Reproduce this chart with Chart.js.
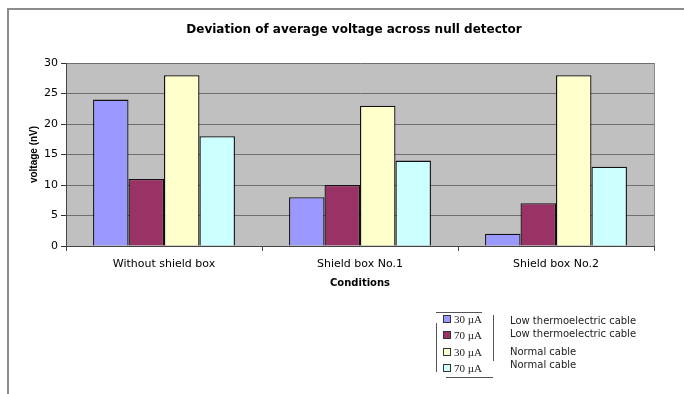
<!DOCTYPE html>
<html>
<head>
<meta charset="utf-8">
<script src="https://cdn.jsdelivr.net/npm/chart.js@4/dist/chart.umd.min.js"></script>
<style>
  html, body { margin: 0; padding: 0; background: #fff; }
  #wrap { position: relative; width: 684px; height: 394px; overflow: hidden; }
  #frame { position: absolute; left: 7px; top: 8px; right: -4px; bottom: -4px;
           border-left: 2px solid #8c8c8c; border-top: 2px solid #8c8c8c; }
  canvas { position: absolute; left: 0; top: 0; }
  .ln { position: absolute; background: #555; }
  .lg { position: absolute; font-family: "Liberation Serif", "DejaVu Serif", serif; font-size: 11px; color: #222; }
  .lg i { display: inline-block; width: 6px; height: 6px; border: 1px solid #333; margin-right: 3px; vertical-align: 0px; }
  .lt { position: absolute; font-family: "DejaVu Sans", Verdana, sans-serif; font-size: 10px; color: #222; }
</style>
</head>
<body>
<div id="wrap">
  <div id="frame"></div>
  <canvas id="chart" width="684" height="394"></canvas>
  <div id="legend"></div>
</div>
<script>
// data
const conditions = ['Without shield box', 'Shield box No.1', 'Shield box No.2'];
const lowCable30 = [24, 8, 2];
const lowCable70 = [11, 10, 7];
const normalCable30 = [28, 23, 28];
const normalCable70 = [18, 14, 13];
const currents = ['30 \u00b5A', '70 \u00b5A', '30 \u00b5A', '70 \u00b5A'];
const cableNames = ['Low thermoelectric cable', 'Low thermoelectric cable', 'Normal cable', 'Normal cable'];
const seriesColors = ['#9999ff', '#993366', '#ffffcc', '#ccffff'];
const chartTitle = 'Deviation of average voltage across null detector';

const font = "'DejaVu Sans', Verdana, sans-serif";

// grey plot background, like the spreadsheet default
const plotBg = {
  id: 'plotBg',
  beforeDraw(chart) {
    const a = chart.chartArea, c = chart.ctx;
    c.save();
    c.fillStyle = '#c0c0c0';
    c.fillRect(a.left, a.top, a.right - a.left, a.bottom - a.top);
    c.strokeStyle = '#8a8a8a';
    c.lineWidth = 1;
    c.beginPath();
    c.moveTo(a.right + 0.5, a.top);
    c.lineTo(a.right + 0.5, a.bottom);
    c.stroke();
    c.restore();
  }
};

// title sits a bit right of the canvas centre in the original
const titleDraw = {
  id: 'titleDraw',
  afterDraw(chart) {
    const c = chart.ctx;
    c.save();
    c.font = 'bold 12px ' + font;
    c.fillStyle = '#000';
    c.textAlign = 'center';
    c.textBaseline = 'middle';
    c.fillText(chartTitle, 354, 30);
    c.restore();
  }
};

const seriesData = [lowCable30, lowCable70, normalCable30, normalCable70];

new Chart(document.getElementById('chart'), {
  type: 'bar',
  data: {
    labels: conditions,
    datasets: seriesData.map((d, i) => ({
      label: currents[i] + ' ' + cableNames[i],
      data: d,
      backgroundColor: seriesColors[i],
      borderColor: '#111',
      borderWidth: 1.3,
      categoryPercentage: 0.724,
      barPercentage: 1
    }))
  },
  options: {
    responsive: false,
    animation: false,
    layout: { padding: { left: 0, right: 30, top: 63, bottom: 105 } },
    plugins: {
      legend: { display: false },
      tooltip: { enabled: false },
      title: { display: false }
    },
    scales: {
      x: {
        grid: { drawOnChartArea: false, drawTicks: true, tickLength: 5, color: '#444', offset: true },
        border: { color: '#444' },
        ticks: { color: '#000', font: { family: font, size: 11 }, padding: 7 },
        title: { display: true, text: 'Conditions', color: '#000', font: { family: font, size: 10, weight: 'bold' }, padding: { top: 0, bottom: 0 } },
        afterFit(s) { s.height = 43; }
      },
      y: {
        min: 0, max: 30,
        ticks: { stepSize: 5, color: '#000', font: { family: font, size: 11 }, padding: 3 },
        grid: { color: '#6e6e6e', tickColor: '#333', tickLength: 5 },
        border: { color: '#444' },
        title: { display: true, text: 'voltage (nV)', color: '#000', font: { family: "'Liberation Sans', Arial, sans-serif", size: 10, weight: 'bold' }, padding: { top: 28, bottom: 0 } },
        afterFit(s) { s.width = 66; }
      }
    }
  },
  plugins: [plotBg, titleDraw]
});

// legend block in the lower right, built from the same arrays
const lg = document.getElementById('legend');
const rowsY = [313, 329, 346, 362];
const textY = [315, 328, 346, 359];
currents.forEach((c, i) => {
  const d = document.createElement('div');
  d.className = 'lg';
  d.style.left = '443px';
  d.style.top = rowsY[i] + 'px';
  d.innerHTML = '<i style="background:' + seriesColors[i] + '"></i>' + c;
  lg.appendChild(d);
  const t = document.createElement('div');
  t.className = 'lt';
  t.style.left = '510px';
  t.style.top = textY[i] + 'px';
  t.textContent = cableNames[i];
  lg.appendChild(t);
});
[[436, 312, 46, 1], [436, 323, 1, 49], [493, 315, 1, 46], [446, 377, 47, 1]].forEach(r => {
  const l = document.createElement('div');
  l.className = 'ln';
  l.style.left = r[0] + 'px'; l.style.top = r[1] + 'px';
  l.style.width = r[2] + 'px'; l.style.height = r[3] + 'px';
  lg.appendChild(l);
});
</script>
</body>
</html>
